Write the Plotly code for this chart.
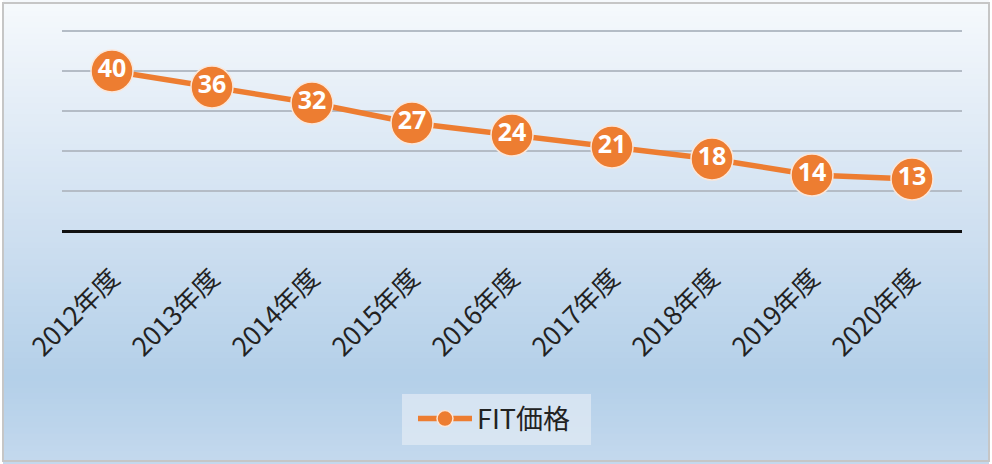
import plotly.graph_objects as go

# FIT price per fiscal year
years = ['2012年度', '2013年度', '2014年度', '2015年度', '2016年度',
         '2017年度', '2018年度', '2019年度', '2020年度']
prices = [40, 36, 32, 27, 24, 21, 18, 14, 13]

W, H = 992, 464
orange = '#ED7D31'
font_family = 'Noto Sans CJK JP, Noto Sans, sans-serif'

fig = go.Figure()
fig.add_trace(go.Scatter(
    x=years, y=prices, name='FIT価格',
    mode='lines+markers+text',
    line=dict(color=orange, width=5.5),
    marker=dict(size=42, color=orange, line=dict(color='#fbe6d8', width=1.5)),
    text=[str(p) for p in prices], textposition='middle center',
    textfont=dict(color='white', size=25, family='Noto Sans, sans-serif', weight='bold'),
))

# background gradient (white at top -> light blue, a bit lighter at the very bottom)
stops = [(0.0, (247, 250, 253)), (0.5, (207, 224, 241)), (0.82, (180, 208, 233)), (1.0, (196, 217, 238))]
n = 80
shapes = []
for i in range(n):
    t = (i + 0.5) / n
    for (a, ca), (b, cb) in zip(stops, stops[1:]):
        if a <= t <= b:
            f = (t - a) / (b - a)
            c = tuple(int(ca[k] + (cb[k] - ca[k]) * f) for k in range(3))
            break
    shapes.append(dict(type='rect', xref='paper', yref='paper', layer='below',
                       x0=3 / W, x1=989 / W, y0=1 - i / n + 0.003, y1=1 - (i + 1) / n,
                       fillcolor='rgb(%d,%d,%d)' % c, line=dict(width=0)))
# legend box
shapes.append(dict(type='rect', xref='paper', yref='paper', layer='below',
                   x0=402 / W, x1=591 / W, y0=1 - 445 / H, y1=1 - 394 / H,
                   fillcolor='rgba(226,235,245,0.7)', line=dict(width=0)))
# outer frame
shapes.append(dict(type='rect', xref='paper', yref='paper', layer='above',
                   x0=3 / W, x1=989 / W, y0=1 - 461 / H, y1=1 - 3 / H,
                   line=dict(color='#c6c6c6', width=2), fillcolor='rgba(0,0,0,0)'))

fig.update_layout(
    width=W, height=H,
    margin=dict(l=0, r=0, t=0, b=0, autoexpand=False),
    shapes=shapes,
    paper_bgcolor='white', plot_bgcolor='rgba(0,0,0,0)',
    font=dict(family=font_family, color='#222222'),
    showlegend=True,
    legend=dict(orientation='h', x=494 / W, xanchor='center', y=1 - 419 / H, yanchor='middle',
                bgcolor='rgba(0,0,0,0)', font=dict(size=27, color='#222222'),
                itemwidth=54),
)
fig.update_xaxes(type='category', range=[-0.5, 8.5], tickangle=-45,
                 domain=[62 / W, 962 / W], automargin=False,
                 tickfont=dict(size=26, color='#222222'), ticklabelstandoff=26,
                 showgrid=False, showline=False, ticks='')
# 4 px per unit, 0 at y=231 -> 50.5 at y=29 so the top grid line is kept
fig.update_yaxes(range=[0, 50.5], dtick=10, showticklabels=False, showgrid=True,
                 domain=[1 - 231 / H, 1 - 29 / H], automargin=False,
                 gridcolor='#b4bcc6', gridwidth=2, zeroline=True, zerolinecolor='#111111',
                 zerolinewidth=3, showline=False)

fig.write_html('out.html', config={'displayModeBar': False},
               post_script="document.body.style.margin='0';")
